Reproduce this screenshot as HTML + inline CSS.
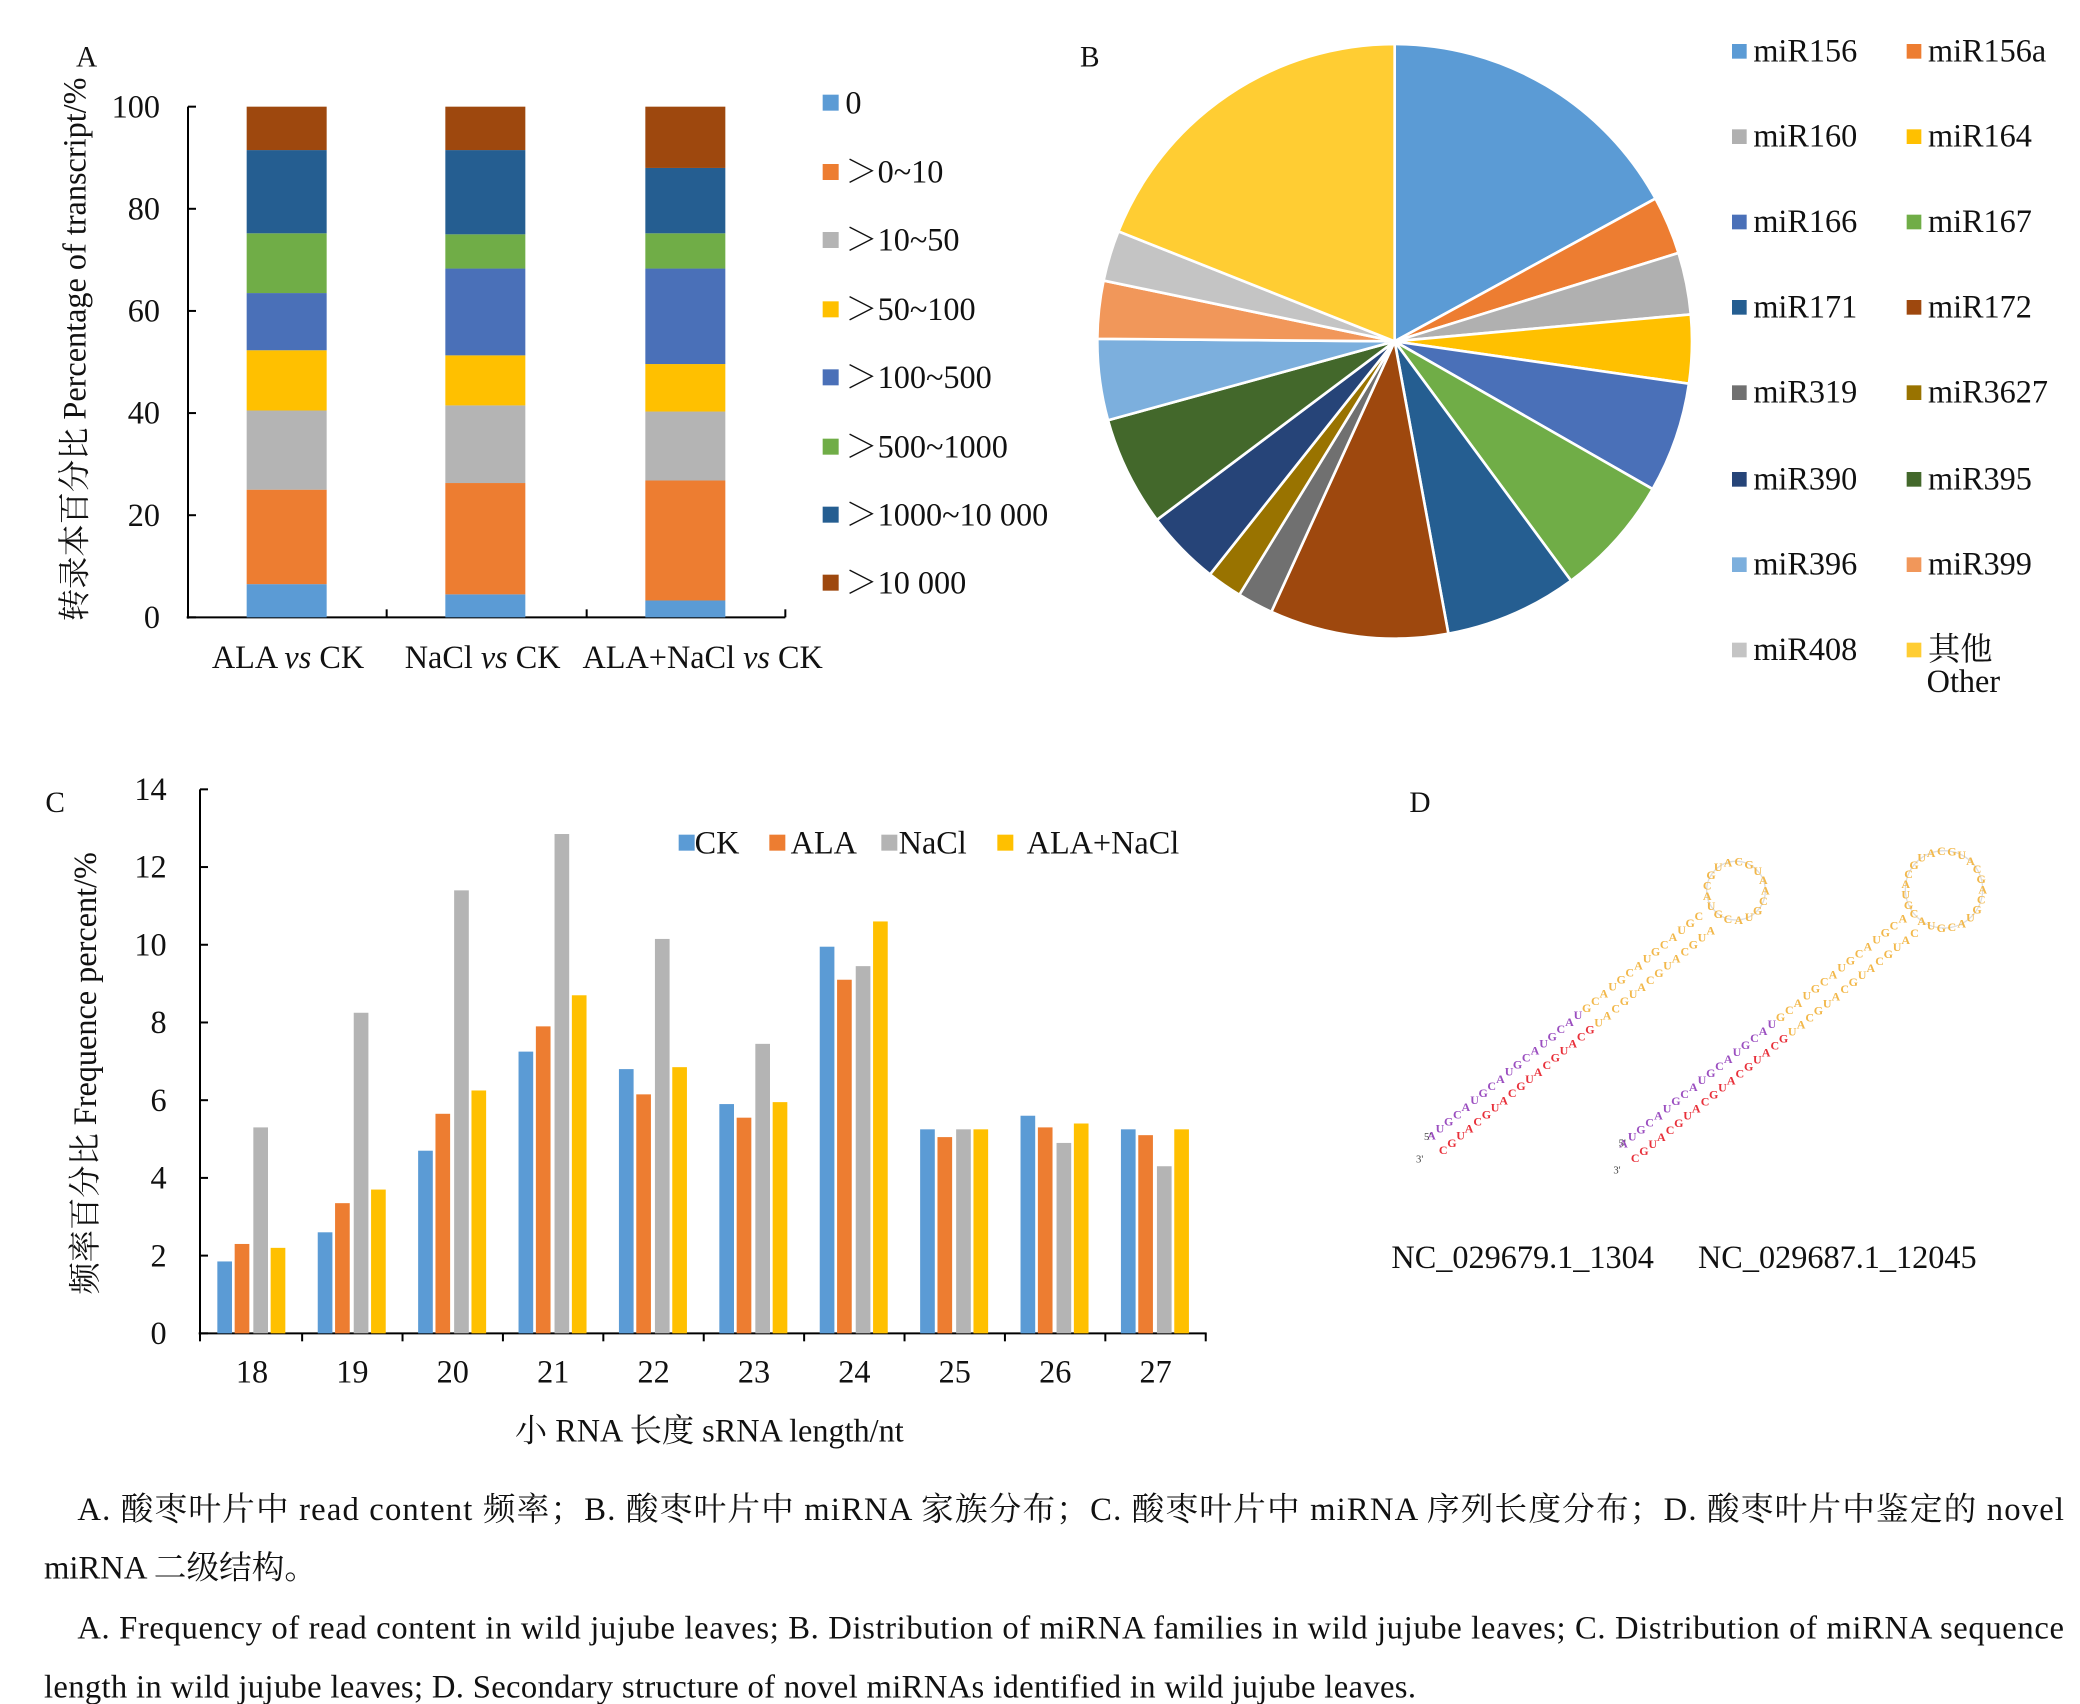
<!DOCTYPE html>
<html><head><meta charset="utf-8">
<style>
html,body{margin:0;padding:0;background:#fff;}
svg{display:block;}
text{font-family:"Liberation Serif","Noto Serif CJK SC","Noto Sans CJK SC",serif;}
</style></head>
<body>
<svg id="s" width="2080" height="1704" viewBox="0 0 1560 1278" xmlns="http://www.w3.org/2000/svg">
<rect width="1560" height="1278" fill="#fff"/>
<g id="g" fill="#111"></g>
</svg>
<script>
var out=[];
var FS=24.2;
function T(x,y,t,o){o=o||{};out.push('<text x="'+x+'" y="'+y+'" font-size="'+(o.s||FS)+'"'+(o.a?' text-anchor="'+o.a+'"':'')+(o.tr?' transform="'+o.tr+'"':'')+(o.tl?' textLength="'+o.tl+'" lengthAdjust="spacing"':'')+(o.f?' style="fill:'+o.f+'"':'')+(o.w?' font-weight="bold"':'')+'>'+t+'</text>');}
function R(x,y,w,h,c){out.push('<rect x="'+x+'" y="'+y+'" width="'+w+'" height="'+h+'" fill="'+c+'"/>');}
function L(x1,y1,x2,y2,c,w){out.push('<line x1="'+x1+'" y1="'+y1+'" x2="'+x2+'" y2="'+y2+'" stroke="'+(c||'#000')+'" stroke-width="'+(w||1.5)+'"/>');}
// Panel A
var colA=['#5B9BD5','#ED7D31','#B4B4B4','#FFC000','#4A70B8','#70AD47','#255E91','#9E480E'];
T(57,50,'A',{s:22});
var y0=463,sc=383/100;
L(141,80,141,464);L(140,463,589,463);
[0,20,40,60,80,100].forEach(function(v){var y=y0-v*sc;L(141,y,147,y);T(120,y+8,v,{a:'end'});});
[290,440,589].forEach(function(x){L(x,463,x,457);});
var bars=[[185,[0,6.5,25,40.5,52.3,63.5,75.2,91.5,100]],[334,[0,4.5,26.3,41.5,51.3,68.3,75,91.5,100]],[484,[0,3.3,26.8,40.3,49.6,68.3,75.2,88,100]]];
bars.forEach(function(b){for(var i=0;i<8;i++){var ya=y0-b[1][i+1]*sc,yb=y0-b[1][i]*sc;R(b[0],ya,60,yb-ya,colA[i]);}});
var labA=['0','＞0~10','＞10~50','＞50~100','＞100~500','＞500~1000','＞1000~10 000','＞10 000'];
var ly=[77,129,180,232,283,335,386,437];
for(var i=0;i<8;i++){R(617,ly[i]-6,12,12,colA[i]);T(634,ly[i]+8,labA[i]);}
T(216,501,'ALA <tspan font-style="italic">vs</tspan> CK',{a:'middle'});
T(362,501,'NaCl <tspan font-style="italic">vs</tspan> CK',{a:'middle'});
T(527,501,'ALA+NaCl <tspan font-style="italic">vs</tspan> CK',{a:'middle'});
T(0,0,'转录本百分比 Percentage of transcript/%',{a:'middle',tr:'translate(64,262) rotate(-90)'});
// Panel B
T(810,50,'B',{s:22});
var cx=1046,cy=256,r=223;
var ang=[0,61.3,72.7,84.8,98.2,119.8,143.6,169.6,204.5,211.5,218.4,233.1,254.6,270.5,281.8,291.7,360];
var colB=['#5B9BD5','#ED7D31','#B0B0B0','#FFC000','#4A70B8','#70AD47','#255E91','#9E480E','#707070','#997300','#264478','#43682B','#7CAFDD','#F1975A','#C4C4C4','#FFCD33'];
function P(a){var t=a*Math.PI/180;return [cx+r*Math.sin(t),cy-r*Math.cos(t)];}
for(var i=0;i<16;i++){var p1=P(ang[i]),p2=P(ang[i+1]);var lg=(ang[i+1]-ang[i])>180?1:0;
out.push('<path d="M'+cx+','+cy+' L'+p1[0].toFixed(1)+','+p1[1].toFixed(1)+' A'+r+','+r+' 0 '+lg+' 1 '+p2[0].toFixed(1)+','+p2[1].toFixed(1)+' Z" fill="'+colB[i]+'" stroke="#fff" stroke-width="2"/>');}
var labB=['miR156','miR156a','miR160','miR164','miR166','miR167','miR171','miR172','miR319','miR3627','miR390','miR395','miR396','miR399','miR408','其他'];
var by=[38,102,166,230,294,359,423,487];
for(var i=0;i<16;i++){var c=i%2,row=Math.floor(i/2);var x=c?1430:1299;R(x,by[row]-5,11,11,colB[i]);T(x+16,by[row]+8,labB[i]);}
T(1445,519,'Other');
// Panel C
T(34,609,'C',{s:22});
var cy0=1000,cs=408/14;
L(150,592,150,1001);L(149,1000,905,1000);
for(var v=0;v<=14;v+=2){var y=cy0-v*cs;L(150,y,156,y);T(125,y+8,v,{a:'end'});}
var vals=[[1.85,2.3,5.3,2.2],[2.6,3.35,8.25,3.7],[4.7,5.65,11.4,6.25],[7.25,7.9,12.85,8.7],[6.8,6.15,10.15,6.85],[5.9,5.55,7.45,5.95],[9.95,9.1,9.45,10.6],[5.25,5.05,5.25,5.25],[5.6,5.3,4.9,5.4],[5.25,5.1,4.3,5.25]];
var colC=['#5B9BD5','#ED7D31','#B4B4B4','#FFC000'];
for(var k=0;k<10;k++){var ctr=189+k*75.3;var offs=[-26,-13,1,14];
for(var j=0;j<4;j++){var h=vals[k][j]*cs;R(ctr+offs[j],cy0-h,11,h,colC[j]);}
T(ctr,1037,18+k,{a:'middle'});var tx=ctr+37.6;L(tx,1000,tx,1006);}
L(150,1000,150,1006);
R(509,626,12,12,colC[0]);T(521,640,'CK');
R(577,626,12,12,colC[1]);T(593,640,'ALA');
R(661,626,12,12,colC[2]);T(674,640,'NaCl');
R(748,626,12,12,colC[3]);T(770,640,'ALA+NaCl');
T(532,1081,'小 RNA 长度 sRNA length/nt',{a:'middle'});
T(0,0,'频率百分比 Frequence percent/%',{a:'middle',tr:'translate(72,805) rotate(-90)'});
// Panel D
T(1057,609,'D',{s:22});
function hairpin(x0,y0,x1,y1,lx,ly,lr,split){
 var dx=x1-x0,dy=y1-y0,len=Math.sqrt(dx*dx+dy*dy),nx=-dy/len*7,ny=dx/len*7,n=Math.round(len/8.5);
 var L2='ACGU';
 for(var i=0;i<n;i++){var t=i/n;var px=x0+dx*t,py=y0+dy*t;var c1=t<split?'#9B4FC0':'#F2B84B',c2=t<split?'#E8303A':'#F2B84B';
 T((px-nx).toFixed(1),(py-ny).toFixed(1),L2[(i*7)%4],{s:9,f:c1,a:'middle',w:1});
 T((px+nx).toFixed(1),(py+ny).toFixed(1),L2[(i*5+1)%4],{s:9,f:c2,a:'middle',w:1});}
 var m=Math.round(2*Math.PI*lr/8);
 for(var i=0;i<m;i++){var a=i/m*2*Math.PI;T((lx+lr*Math.cos(a)).toFixed(1),(ly+lr*Math.sin(a)+3).toFixed(1),L2[i%4],{s:9,f:'#F2B84B',a:'middle',w:1});}
}
out.push('<circle cx="1302" cy="668" r="22" fill="none" stroke="#ddd" stroke-width="1"/>');
out.push('<circle cx="1458" cy="667" r="29" fill="none" stroke="#ddd" stroke-width="1"/>');
hairpin(1078,860,1285,690,1302,668,22,0.55);
hairpin(1222,866,1438,692,1458,667,29,0.52);
T(1068,855,"5'",{s:8,f:'#444'});T(1062,872,"3'",{s:8,f:'#444'});
T(1214,860,"5'",{s:8,f:'#444'});T(1210,880,"3'",{s:8,f:'#444'});
T(1142,951,'NC_029679.1_1304',{a:'middle'});
T(1378,951,'NC_029687.1_12045',{a:'middle'});
// captions
var CS=24.5;
T(58,1140,'A. 酸枣叶片中 read content 频率；B. 酸枣叶片中 miRNA 家族分布；C. 酸枣叶片中 miRNA 序列长度分布；D. 酸枣叶片中鉴定的 novel',{tl:1490,s:CS});
T(33,1184,'miRNA 二级结构。',{s:CS});
T(58,1229,'A. Frequency of read content in wild jujube leaves; B. Distribution of miRNA families in wild jujube leaves; C. Distribution of miRNA sequence',{tl:1490,s:CS});
T(33,1273,'length in wild jujube leaves; D. Secondary structure of novel miRNAs identified in wild jujube leaves.',{tl:1029,s:CS});
document.getElementById('g').innerHTML=out.join('');
</script>
</body></html>
